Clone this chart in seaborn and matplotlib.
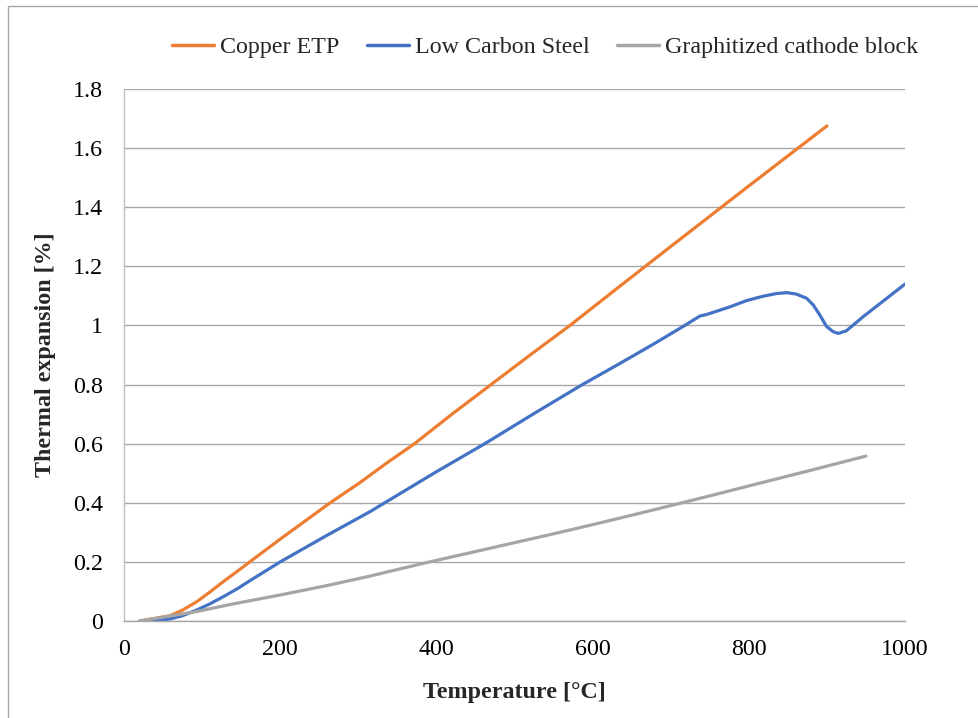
import matplotlib
matplotlib.use("Agg")
import matplotlib.pyplot as plt
import seaborn as sns
import pandas as pd
from matplotlib.patches import Rectangle

# Data
copper_T = [20, 40, 59, 75, 93, 110, 127, 145, 161, 200, 264, 302, 335, 372, 420, 470, 520, 571, 635, 700, 800, 900]
copper_v = [0.0, 0.009, 0.018, 0.037, 0.065, 0.098, 0.133, 0.168, 0.2, 0.277, 0.4, 0.468, 0.532, 0.6, 0.7, 0.8, 0.9, 1.0, 1.133, 1.267, 1.472, 1.675]

steel_T = [31, 45, 59, 75, 93, 110, 127, 145, 161, 200, 260, 315, 400, 462, 530, 587, 640, 680, 718, 737.5, 746, 776, 797, 818.6,
           835.7, 848.5, 861, 874, 882.6, 891, 899.7, 908, 914.6, 925, 946.6, 968, 1000]
steel_v = [0.0, 0.002, 0.007, 0.018, 0.037, 0.058, 0.082, 0.109, 0.136, 0.2, 0.29, 0.37, 0.505, 0.6, 0.71, 0.8, 0.879, 0.94, 1.0, 1.032,
           1.037, 1.063, 1.084, 1.099, 1.108, 1.111, 1.106, 1.092, 1.069, 1.035, 0.996, 0.979, 0.973, 0.982, 1.03, 1.074, 1.14]

graphite_T = [20, 50, 93, 140, 200, 260, 315, 345, 388, 440, 500, 550, 600, 655, 710, 760, 800, 875, 950]
graphite_v = [0.0, 0.013, 0.032, 0.058, 0.088, 0.12, 0.152, 0.171, 0.198, 0.229, 0.265, 0.295, 0.326, 0.361, 0.397, 0.43, 0.457, 0.507, 0.558]

series_names = ["Copper ETP", "Low Carbon Steel", "Graphitized cathode block"]
colors = ["#ED7D31", "#4472C4", "#A5A5A5"]

y_ticks = [0, 0.2, 0.4, 0.6, 0.8, 1.0, 1.2, 1.4, 1.6, 1.8]
y_labels = ["0", "0.2", "0.4", "0.6", "0.8", "1", "1.2", "1.4", "1.6", "1.8"]
x_ticks = [0, 200, 400, 600, 800, 1000]

df = pd.concat([
    pd.DataFrame({"T": copper_T, "v": copper_v, "Series": series_names[0]}),
    pd.DataFrame({"T": steel_T, "v": steel_v, "Series": series_names[1]}),
    pd.DataFrame({"T": graphite_T, "v": graphite_v, "Series": series_names[2]}),
], ignore_index=True)

sns.set_theme(style="white")
plt.rcParams["font.family"] = ["Liberation Serif", "DejaVu Serif"]

FS = 17.3

fig = plt.figure(figsize=(9.79, 7.18), dpi=100)
ax = fig.add_axes([124/979, 1-621/718, (905-124)/979, (621-89)/718])

sns.lineplot(data=df, x="T", y="v", hue="Series", palette=dict(zip(series_names, colors)),
             hue_order=series_names, sort=False, estimator=None, linewidth=2.3, ax=ax)
for ln in ax.get_lines():
    ln.set_solid_joinstyle("round")
    ln.set_solid_capstyle("round")

ax.set_xlim(0, 1000)
ax.set_ylim(0, 1.8)
ax.set_yticks(y_ticks)
ax.set_yticklabels(y_labels)
ax.set_xticks(x_ticks)
ax.yaxis.grid(True, color="#A6A6A6", linewidth=1)
ax.xaxis.grid(False)
ax.set_axisbelow(True)
for s in ["top", "right"]:
    ax.spines[s].set_visible(False)
ax.spines["left"].set_color("#BFBFBF")
ax.spines["bottom"].set_color("#A6A6A6")
for s in ["left", "bottom"]:
    ax.spines[s].set_linewidth(1)
ax.tick_params(axis="both", which="both", direction="out", length=6, width=1,
               color="#A6A6A6", labelsize=FS, labelcolor="black")
ax.tick_params(axis="x", pad=7)
ax.tick_params(axis="y", pad=9)

ax.set_xlabel("Temperature [°C]", fontsize=FS, fontweight="bold", labelpad=16)
ax.set_ylabel("Thermal expansion [%]", fontsize=FS, fontweight="bold", labelpad=12)

leg = ax.legend(loc="center", bbox_to_anchor=((545-124)/781, 1 + (89-47)/532), ncol=3, frameon=False,
                fontsize=FS, handlelength=1.75, handletextpad=0.25, columnspacing=1.15)
for line in leg.get_lines():
    line.set_linewidth(2.5)

fig.patches.append(Rectangle((8/979, -0.01), 1.0, 1 - 6/718 + 0.01, transform=fig.transFigure,
                             fill=False, edgecolor="#A6A6A6", linewidth=1))

fig.savefig("out.png", dpi=100)
